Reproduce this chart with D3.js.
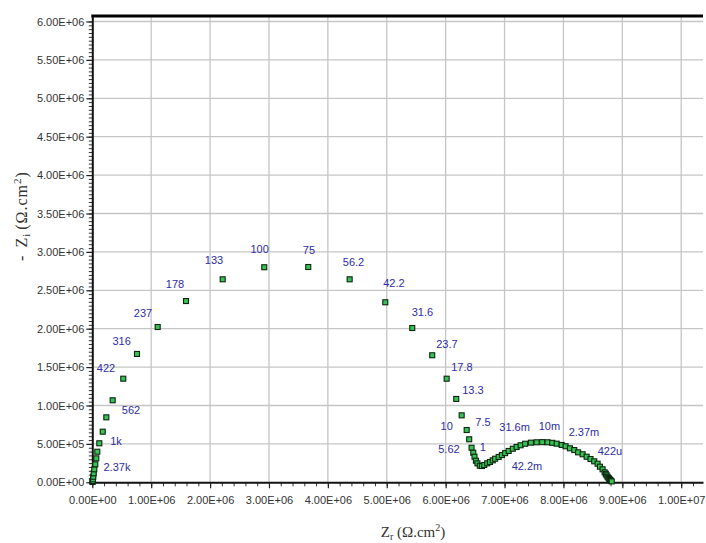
<!DOCTYPE html>
<html>
<head>
<meta charset="utf-8">
<script src="https://cdn.jsdelivr.net/npm/d3@7"></script>
<style>
  html, body { margin: 0; padding: 0; background: #ffffff; }
  svg { display: block; }
</style>
</head>
<body>
<svg id="chart" width="706" height="543"></svg>
<script>
// Nyquist data: real part Zr and negative imaginary part -Zi (Ω·cm²)
const zReal = [
  0.004e6, 0.005e6, 0.007e6, 0.012e6, 0.017e6, 0.024e6, 0.034e6, 0.051e6, 0.068e6, 0.085e6,
  0.119e6, 0.177e6, 0.238e6, 0.346e6, 0.526e6, 0.759e6, 1.110e6, 1.591e6, 2.214e6, 2.920e6,
  3.667e6, 4.370e6, 4.975e6, 5.433e6, 5.772e6, 6.017e6, 6.180e6, 6.272e6, 6.357e6, 6.400e6,
  6.440e6, 6.469e6, 6.490e6, 6.514e6, 6.540e6, 6.580e6, 6.616e6, 6.655e6, 6.706e6, 6.752e6,
  6.800e6, 6.840e6, 6.900e6, 6.956e6, 7.010e6, 7.070e6, 7.140e6, 7.205e6, 7.273e6, 7.350e6,
  7.448e6, 7.545e6, 7.640e6, 7.730e6, 7.810e6, 7.885e6, 7.970e6, 8.037e6, 8.110e6, 8.184e6,
  8.250e6, 8.326e6, 8.394e6, 8.460e6, 8.523e6, 8.580e6, 8.620e6, 8.665e6, 8.700e6, 8.720e6,
  8.733e6, 8.750e6, 8.767e6, 8.780e6, 8.795e6, 8.805e6, 8.820e6
];
const zImag = [
  0.006e6, 0.010e6, 0.017e6, 0.039e6, 0.073e6, 0.117e6, 0.169e6, 0.234e6, 0.312e6, 0.398e6,
  0.508e6, 0.659e6, 0.846e6, 1.068e6, 1.349e6, 1.671e6, 2.022e6, 2.360e6, 2.643e6, 2.800e6,
  2.803e6, 2.643e6, 2.344e6, 2.009e6, 1.654e6, 1.349e6, 1.085e6, 0.872e6, 0.681e6, 0.560e6,
  0.450e6, 0.385e6, 0.333e6, 0.281e6, 0.247e6, 0.216e6, 0.212e6, 0.225e6, 0.247e6, 0.264e6,
  0.286e6, 0.307e6, 0.330e6, 0.355e6, 0.380e6, 0.408e6, 0.437e6, 0.460e6, 0.482e6, 0.502e6,
  0.516e6, 0.521e6, 0.523e6, 0.521e6, 0.514e6, 0.503e6, 0.486e6, 0.469e6, 0.443e6, 0.420e6,
  0.390e6, 0.365e6, 0.333e6, 0.303e6, 0.273e6, 0.242e6, 0.203e6, 0.169e6, 0.130e6, 0.110e6,
  0.091e6, 0.072e6, 0.056e6, 0.042e6, 0.030e6, 0.020e6, 0.012e6
];

// Frequency annotations (Hz) and where each one sits, in data units
const freqLabels = ["2.37k", "1k", "562", "422", "316", "237", "178", "133", "100", "75",
  "56.2", "42.2", "31.6", "23.7", "17.8", "13.3", "10", "7.5", "5.62", "1",
  "31.6m", "42.2m", "10m", "2.37m", "422u"];
const labelZr = [0.419e6, 0.402e6, 0.657e6, 0.233e6, 0.499e6, 0.861e6, 1.404e6, 2.066e6, 2.842e6, 3.679e6,
  4.435e6, 5.122e6, 5.606e6, 6.022e6, 6.277e6, 6.464e6, 6.017e6, 6.633e6, 6.056e6, 6.633e6,
  7.171e6, 7.380e6, 7.762e6, 8.348e6, 8.789e6];
const labelZi = [0.199e6, 0.538e6, 0.941e6, 1.488e6, 1.840e6, 2.205e6, 2.582e6, 2.888e6, 3.042e6, 3.029e6,
  2.868e6, 2.589e6, 2.217e6, 1.805e6, 1.505e6, 1.202e6, 0.737e6, 0.785e6, 0.434e6, 0.460e6,
  0.720e6, 0.206e6, 0.733e6, 0.655e6, 0.408e6];

// Axis ticks
const xMajorTicks = [0, 1e6, 2e6, 3e6, 4e6, 5e6, 6e6, 7e6, 8e6, 9e6, 1e7];
const yMajorTicks = [0, 5e5, 1e6, 1.5e6, 2e6, 2.5e6, 3e6, 3.5e6, 4e6, 4.5e6, 5e6, 5.5e6, 6e6];
const xMinorTicks = d3.range(0, 10.3e6, 2e5);
const yMinorTicks = d3.range(0, 6.05e6, 5e4);

const xMax = 1.037e7;
const yMax = 6.07e6;

const svg = d3.select("#chart");
const plotLeft = 92.3, plotRight = 703, plotTop = 16.1, plotBottom = 482.3;

const x = d3.scaleLinear().domain([0, xMax]).range([plotLeft, plotRight]);
const y = d3.scaleLinear().domain([0, yMax]).range([plotBottom, plotTop]);

// Scientific tick labels like 5.00E+05
function sci(v) {
  if (v === 0) return "0.00E+00";
  const e = Math.floor(Math.log10(Math.abs(v)) + 1e-9);
  const m = v / Math.pow(10, e);
  return m.toFixed(2) + "E" + (e < 0 ? "-" : "+") + String(Math.abs(e)).padStart(2, "0");
}

// Grid
const grid = svg.append("g").attr("class", "grid");
grid.selectAll("line.gx").data(xMajorTicks.filter(d => d > 0)).join("line")
  .attr("class", "gx")
  .attr("x1", d => x(d)).attr("x2", d => x(d))
  .attr("y1", plotTop).attr("y2", plotBottom)
  .attr("stroke", "#c6c6c6").attr("stroke-width", 1.3);
grid.selectAll("line.gy").data(yMajorTicks.filter(d => d > 0)).join("line")
  .attr("class", "gy")
  .attr("x1", plotLeft).attr("x2", plotRight)
  .attr("y1", d => y(d)).attr("y2", d => y(d))
  .attr("stroke", "#c6c6c6").attr("stroke-width", 1.3);

// Minor ticks
svg.append("g").attr("transform", `translate(0,${plotBottom})`)
  .call(d3.axisBottom(x).tickValues(xMinorTicks).tickFormat("").tickSize(4).tickSizeOuter(0))
  .call(g => g.select(".domain").remove())
  .call(g => g.selectAll("line").attr("stroke", "#333").attr("stroke-width", 1));
svg.append("g").attr("transform", `translate(${plotLeft},0)`)
  .call(d3.axisLeft(y).tickValues(yMinorTicks).tickFormat("").tickSize(3.5).tickSizeOuter(0))
  .call(g => g.select(".domain").remove())
  .call(g => g.selectAll("line").attr("stroke", "#333").attr("stroke-width", 1));

// Major axes
const xAxis = svg.append("g").attr("transform", `translate(0,${plotBottom})`)
  .call(d3.axisBottom(x).tickValues(xMajorTicks).tickFormat(sci).tickSize(6).tickSizeOuter(0).tickPadding(8));
xAxis.select(".domain").attr("stroke", "#111").attr("stroke-width", 2);
xAxis.selectAll(".tick line").attr("stroke", "#222").attr("stroke-width", 1.2);
xAxis.selectAll(".tick text")
  .attr("font-family", "'Liberation Sans', Arial, sans-serif")
  .attr("font-size", 11).attr("fill", "#333");

const yAxis = svg.append("g").attr("transform", `translate(${plotLeft},0)`)
  .call(d3.axisLeft(y).tickValues(yMajorTicks).tickFormat(sci).tickSize(6).tickSizeOuter(0).tickPadding(2));
yAxis.select(".domain").attr("stroke", "#111").attr("stroke-width", 2);
yAxis.selectAll(".tick line").attr("stroke", "#222").attr("stroke-width", 1.2);
yAxis.selectAll(".tick text")
  .attr("font-family", "'Liberation Sans', Arial, sans-serif")
  .attr("font-size", 11).attr("fill", "#333");

// Heavy top frame
svg.append("line")
  .attr("x1", plotLeft - 1).attr("x2", plotRight).attr("y1", plotTop).attr("y2", plotTop)
  .attr("stroke", "#000").attr("stroke-width", 3);

// Data markers
const pts = zReal.map((d, i) => ({ zr: d, zi: zImag[i] }));
const s = 5;
svg.append("g").selectAll("rect").data(pts).join("rect")
  .attr("x", d => x(d.zr) - s / 2)
  .attr("y", d => y(d.zi) - s / 2)
  .attr("width", s).attr("height", s)
  .attr("fill", "#36c254")
  .attr("stroke", "#0d250f").attr("stroke-width", 1.1);

// Frequency annotations
svg.append("g").selectAll("text").data(freqLabels).join("text")
  .attr("x", (d, i) => x(labelZr[i]))
  .attr("y", (d, i) => y(labelZi[i]))
  .attr("dy", "0.36em")
  .attr("text-anchor", "middle")
  .attr("font-family", "'Liberation Sans', Arial, sans-serif")
  .attr("font-size", 11)
  .attr("fill", "#2d2da8")
  .text(d => d);

// Axis titles
const xTitle = svg.append("text")
  .attr("x", 413).attr("y", 537)
  .attr("text-anchor", "middle")
  .attr("font-family", "'Liberation Serif', 'Times New Roman', serif")
  .attr("font-size", 15).attr("fill", "#333");
xTitle.append("tspan").text("Z");
xTitle.append("tspan").attr("font-size", 10).attr("dy", 3).text("r");
xTitle.append("tspan").attr("dy", -3).text(" (Ω.cm");
xTitle.append("tspan").attr("font-size", 10).attr("dy", -6).text("2");
xTitle.append("tspan").attr("dy", 6).text(")");

const yTitle = svg.append("text")
  .attr("transform", "translate(27,216) rotate(-90)")
  .attr("text-anchor", "middle")
  .attr("font-family", "'Liberation Serif', 'Times New Roman', serif")
  .attr("font-size", 16).attr("fill", "#333")
  .attr("letter-spacing", 1);
yTitle.append("tspan").text("-");
yTitle.append("tspan").attr("dx", 7).text("Z");
yTitle.append("tspan").attr("font-size", 11).attr("dy", 3).text("i");
yTitle.append("tspan").attr("dy", -3).attr("dx", 3).text("(Ω.cm");
yTitle.append("tspan").attr("font-size", 11).attr("dy", -6).text("2");
yTitle.append("tspan").attr("dy", 6).text(")");
</script>
</body>
</html>
